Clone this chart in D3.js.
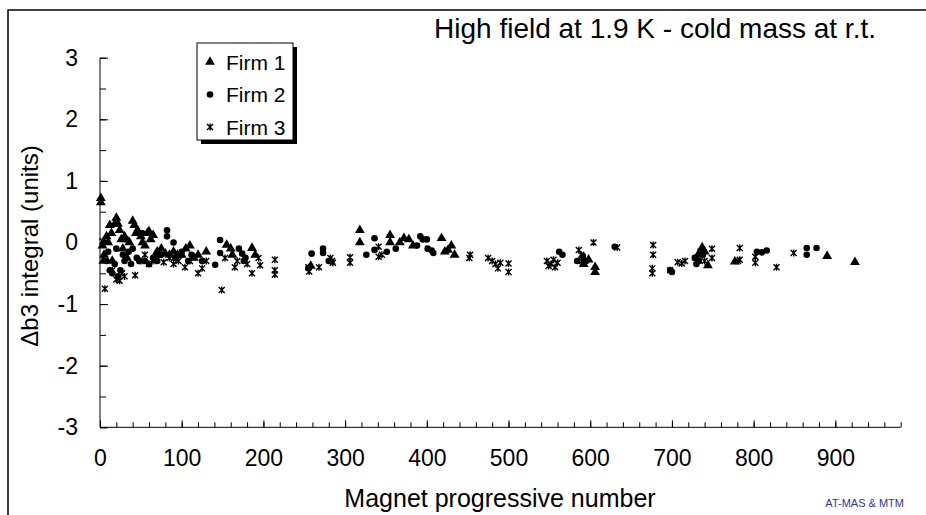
<!DOCTYPE html>
<html>
<head>
<meta charset="utf-8">
<script src="https://cdn.jsdelivr.net/npm/d3@7"></script>
<style>
  html, body { margin: 0; padding: 0; background: #fff; }
  svg { display: block; font-family: "Liberation Sans", Arial, sans-serif; }
</style>
</head>
<body>
<svg id="chart" width="926" height="515"></svg>
<script>
// ---- data ----
const titleText = "High field at 1.9 K - cold mass at r.t.";
const xLabel = "Magnet progressive number";
const yLabel = "\u0394b3 integral (units)";
const seriesNames = ["Firm 1", "Firm 2", "Firm 3"];
const xTickValues = [0, 100, 200, 300, 400, 500, 600, 700, 800, 900];
const yTickValues = [-3, -2, -1, 0, 1, 2, 3];

// Firm 1 (triangles): [magnet number, Δb3]
const firm1 = [
  [1,0.72],[1,0.65],[3,-0.05],[5,-0.2],[4,-0.3],[8,0.1],[10,0.0],[12,0.28],[14,0.15],[15,-0.3],
  [18,0.3],[20,0.4],[22,0.3],[24,0.2],[26,0.05],[28,-0.1],[30,0.1],[33,-0.25],[36,0.0],[40,0.35],
  [42,0.28],[44,0.15],[46,0.2],[50,0.1],[52,0.0],[55,-0.05],[58,0.15],[60,0.18],[62,0.05],[65,0.12],
  [68,-0.2],[70,-0.15],[75,-0.1],[80,-0.18],[85,-0.2],[90,-0.15],[95,-0.2],
  [100,-0.2],[105,-0.1],[110,-0.05],[115,-0.25],[120,-0.2],[130,-0.15],[155,-0.04],[160,-0.1],[162,-0.2],
  [186,-0.09],[190,-0.2],[258,-0.38],
  [318,0.2],[318,0.0],[355,0.12],[355,0.0],[367,0.0],[372,0.07],[378,0.05],[383,-0.05],
  [418,0.07],[422,-0.15],[426,-0.12],[430,-0.05],[434,-0.2],
  [592,-0.35],[598,-0.28],[606,-0.4],[606,-0.48],
  [732,-0.2],[737,-0.08],[740,-0.15],[744,-0.37],[777,-0.31],[890,-0.22],[924,-0.32]
];
// Firm 2 (circles)
const firm2 = [
  [5,0.0],[8,-0.3],[10,-0.15],[12,-0.45],[15,-0.5],[18,-0.35],[20,-0.1],[22,-0.55],[25,-0.45],[28,-0.2],
  [30,-0.3],[32,0.05],[35,-0.15],[38,-0.35],[40,-0.1],[45,-0.25],[48,-0.3],[52,0.15],[55,-0.3],[60,-0.35],
  [65,-0.25],[70,-0.3],[75,-0.2],[82,0.2],[82,0.1],[90,0.0],[92,-0.25],
  [100,-0.15],[108,-0.3],[112,-0.2],[125,-0.3],[141,-0.36],[147,0.04],[147,-0.17],[170,-0.1],[174,-0.18],
  [176,-0.3],[178,-0.25],
  [259,-0.18],[255,-0.42],[273,-0.1],[273,-0.17],[280,-0.3],
  [326,-0.2],[336,0.07],[336,-0.12],[351,-0.15],[362,-0.1],[388,-0.05],[392,0.1],[395,0.05],[400,0.05],
  [401,-0.1],[406,-0.13],[408,-0.17],
  [562,-0.15],[566,-0.2],[584,-0.3],[591,-0.22],[595,-0.3],[630,-0.07],
  [698,-0.45],[700,-0.48],[728,-0.25],[730,-0.35],[733,-0.3],[738,-0.2],
  [804,-0.15],[810,-0.16],[816,-0.13],[865,-0.09],[865,-0.2],[877,-0.09]
];
// Firm 3 (asterisks)
const firm3 = [
  [6,-0.75],[3,0.02],[15,-0.45],[20,-0.6],[24,-0.62],[27,-0.5],[30,-0.55],[43,-0.53],[50,-0.3],[55,-0.2],
  [60,-0.35],[65,-0.3],[72,-0.2],[78,-0.32],[85,-0.25],[90,-0.35],[96,-0.3],[98,-0.2],
  [104,-0.4],[110,-0.3],[120,-0.5],[125,-0.42],[130,-0.3],[149,-0.77],[153,-0.25],[165,-0.4],[168,-0.3],
  [180,-0.35],[186,-0.5],[194,-0.25],[196,-0.37],
  [214,-0.28],[214,-0.45],[214,-0.52],[255,-0.4],[256,-0.47],[268,-0.4],[282,-0.25],[284,-0.3],[285,-0.33],
  [306,-0.24],[306,-0.33],[341,-0.07],[341,-0.23],[345,-0.2],[452,-0.25],[453,-0.2],
  [475,-0.25],[480,-0.3],[484,-0.35],[487,-0.42],[490,-0.33],[500,-0.34],[500,-0.48],
  [547,-0.3],[549,-0.38],[552,-0.35],[555,-0.28],[557,-0.4],[560,-0.33],[586,-0.12],[589,-0.2],[590,-0.3],
  [604,0.0],[633,-0.08],
  [676,-0.42],[676,-0.5],[677,-0.04],[677,-0.2],[698,-0.45],[707,-0.32],[712,-0.34],[716,-0.3],
  [735,-0.15],[740,-0.3],[749,-0.1],[749,-0.25],[781,-0.3],[783,-0.09],[783,-0.28],
  [802,-0.23],[802,-0.33],[828,-0.4],[849,-0.17]
];

// ---- drawing ----
const svg = d3.select("#chart");

// outer frame
svg.append("rect").attr("x", 8).attr("y", 10).attr("width", 940).attr("height", 520)
  .attr("fill", "none").attr("stroke", "#000").attr("stroke-width", 1.5);

const x = d3.scaleLinear().domain([0, 980]).range([100, 900.7]);
const y = d3.scaleLinear().domain([-3, 3]).range([427.3, 57.7]);
const fmt = d => String(d);

// axes: minor ticks
svg.append("g").attr("transform", "translate(0,427.3)")
  .call(d3.axisBottom(x).tickValues(d3.range(0, 981, 20)).tickSize(-5).tickFormat(""))
  .call(g => g.select(".domain").remove());
svg.append("g").attr("transform", "translate(100,0)")
  .call(d3.axisLeft(y).tickValues(d3.range(-3, 3.01, 0.5)).tickSize(-6).tickFormat(""))
  .call(g => g.select(".domain").remove());

// major ticks + labels
const xAxis = svg.append("g").attr("transform", "translate(0,427.3)")
  .call(d3.axisBottom(x).tickValues(xTickValues).tickSize(-7).tickPadding(22).tickFormat(fmt));
xAxis.select(".domain").attr("d", `M${x(0)},0H${x(980)}`);
xAxis.selectAll("text").attr("font-size", 23).attr("fill", "#000")
  .attr("font-family", "Liberation Sans, Arial, sans-serif");

const yAxis = svg.append("g").attr("transform", "translate(100,0)")
  .call(d3.axisLeft(y).tickValues(yTickValues).tickSize(-8).tickPadding(22).tickFormat(fmt));
yAxis.select(".domain").attr("d", `M0,${y(3)}V${y(-3)}`);
yAxis.selectAll("text").attr("font-size", 23).attr("fill", "#000")
  .attr("font-family", "Liberation Sans, Arial, sans-serif");
svg.selectAll(".tick line").attr("stroke", "#000");
svg.selectAll(".domain").attr("stroke", "#000");

// symbols
const triPath = d3.symbol().type(d3.symbolTriangle).size(42)();
const asterisk = "M-3,-3L3,3M-3,3L3,-3M0,-3.5V3.5";

function drawMarker(g, k) {
  if (k === 0) g.append("path").attr("d", triPath).attr("fill", "#000");
  else if (k === 1) g.append("circle").attr("r", 3.3).attr("fill", "#000");
  else g.append("path").attr("d", asterisk).attr("fill", "none").attr("stroke", "#000").attr("stroke-width", 1.4);
}

const plot = svg.append("g");
[firm1, firm2, firm3].forEach((data, k) => {
  plot.selectAll(null).data(data).enter().append("g")
    .attr("transform", d => `translate(${x(d[0])},${y(d[1])})`)
    .each(function() { drawMarker(d3.select(this), k); });
});

// title
svg.append("text").attr("x", 876).attr("y", 38).attr("text-anchor", "end")
  .attr("font-size", 28).attr("fill", "#000").text(titleText);

// axis titles
svg.append("text").attr("x", 500).attr("y", 507).attr("text-anchor", "middle")
  .attr("font-size", 25).attr("fill", "#000").text(xLabel);
svg.append("text").attr("transform", "translate(38,246) rotate(-90)").attr("text-anchor", "middle")
  .attr("font-size", 24).attr("fill", "#000").text(yLabel);

// legend
const lg = svg.append("g");
lg.append("rect").attr("x", 201).attr("y", 47).attr("width", 96).attr("height", 97).attr("fill", "#000");
lg.append("rect").attr("x", 197).attr("y", 43).attr("width", 96).attr("height", 97)
  .attr("fill", "#fff").attr("stroke", "#000").attr("stroke-width", 1);
seriesNames.forEach((name, i) => {
  const cy = 62 + i * 32.5;
  const m = lg.append("g").attr("transform", `translate(210,${cy})`);
  drawMarker(m, i);
  lg.append("text").attr("x", 226).attr("y", cy + 7.5).attr("font-size", 21).attr("fill", "#000").text(name);
});

// credit
svg.append("text").attr("x", 904).attr("y", 507).attr("text-anchor", "end")
  .attr("font-size", 11).attr("fill", "#333399").text("AT-MAS & MTM");
</script>
</body>
</html>
